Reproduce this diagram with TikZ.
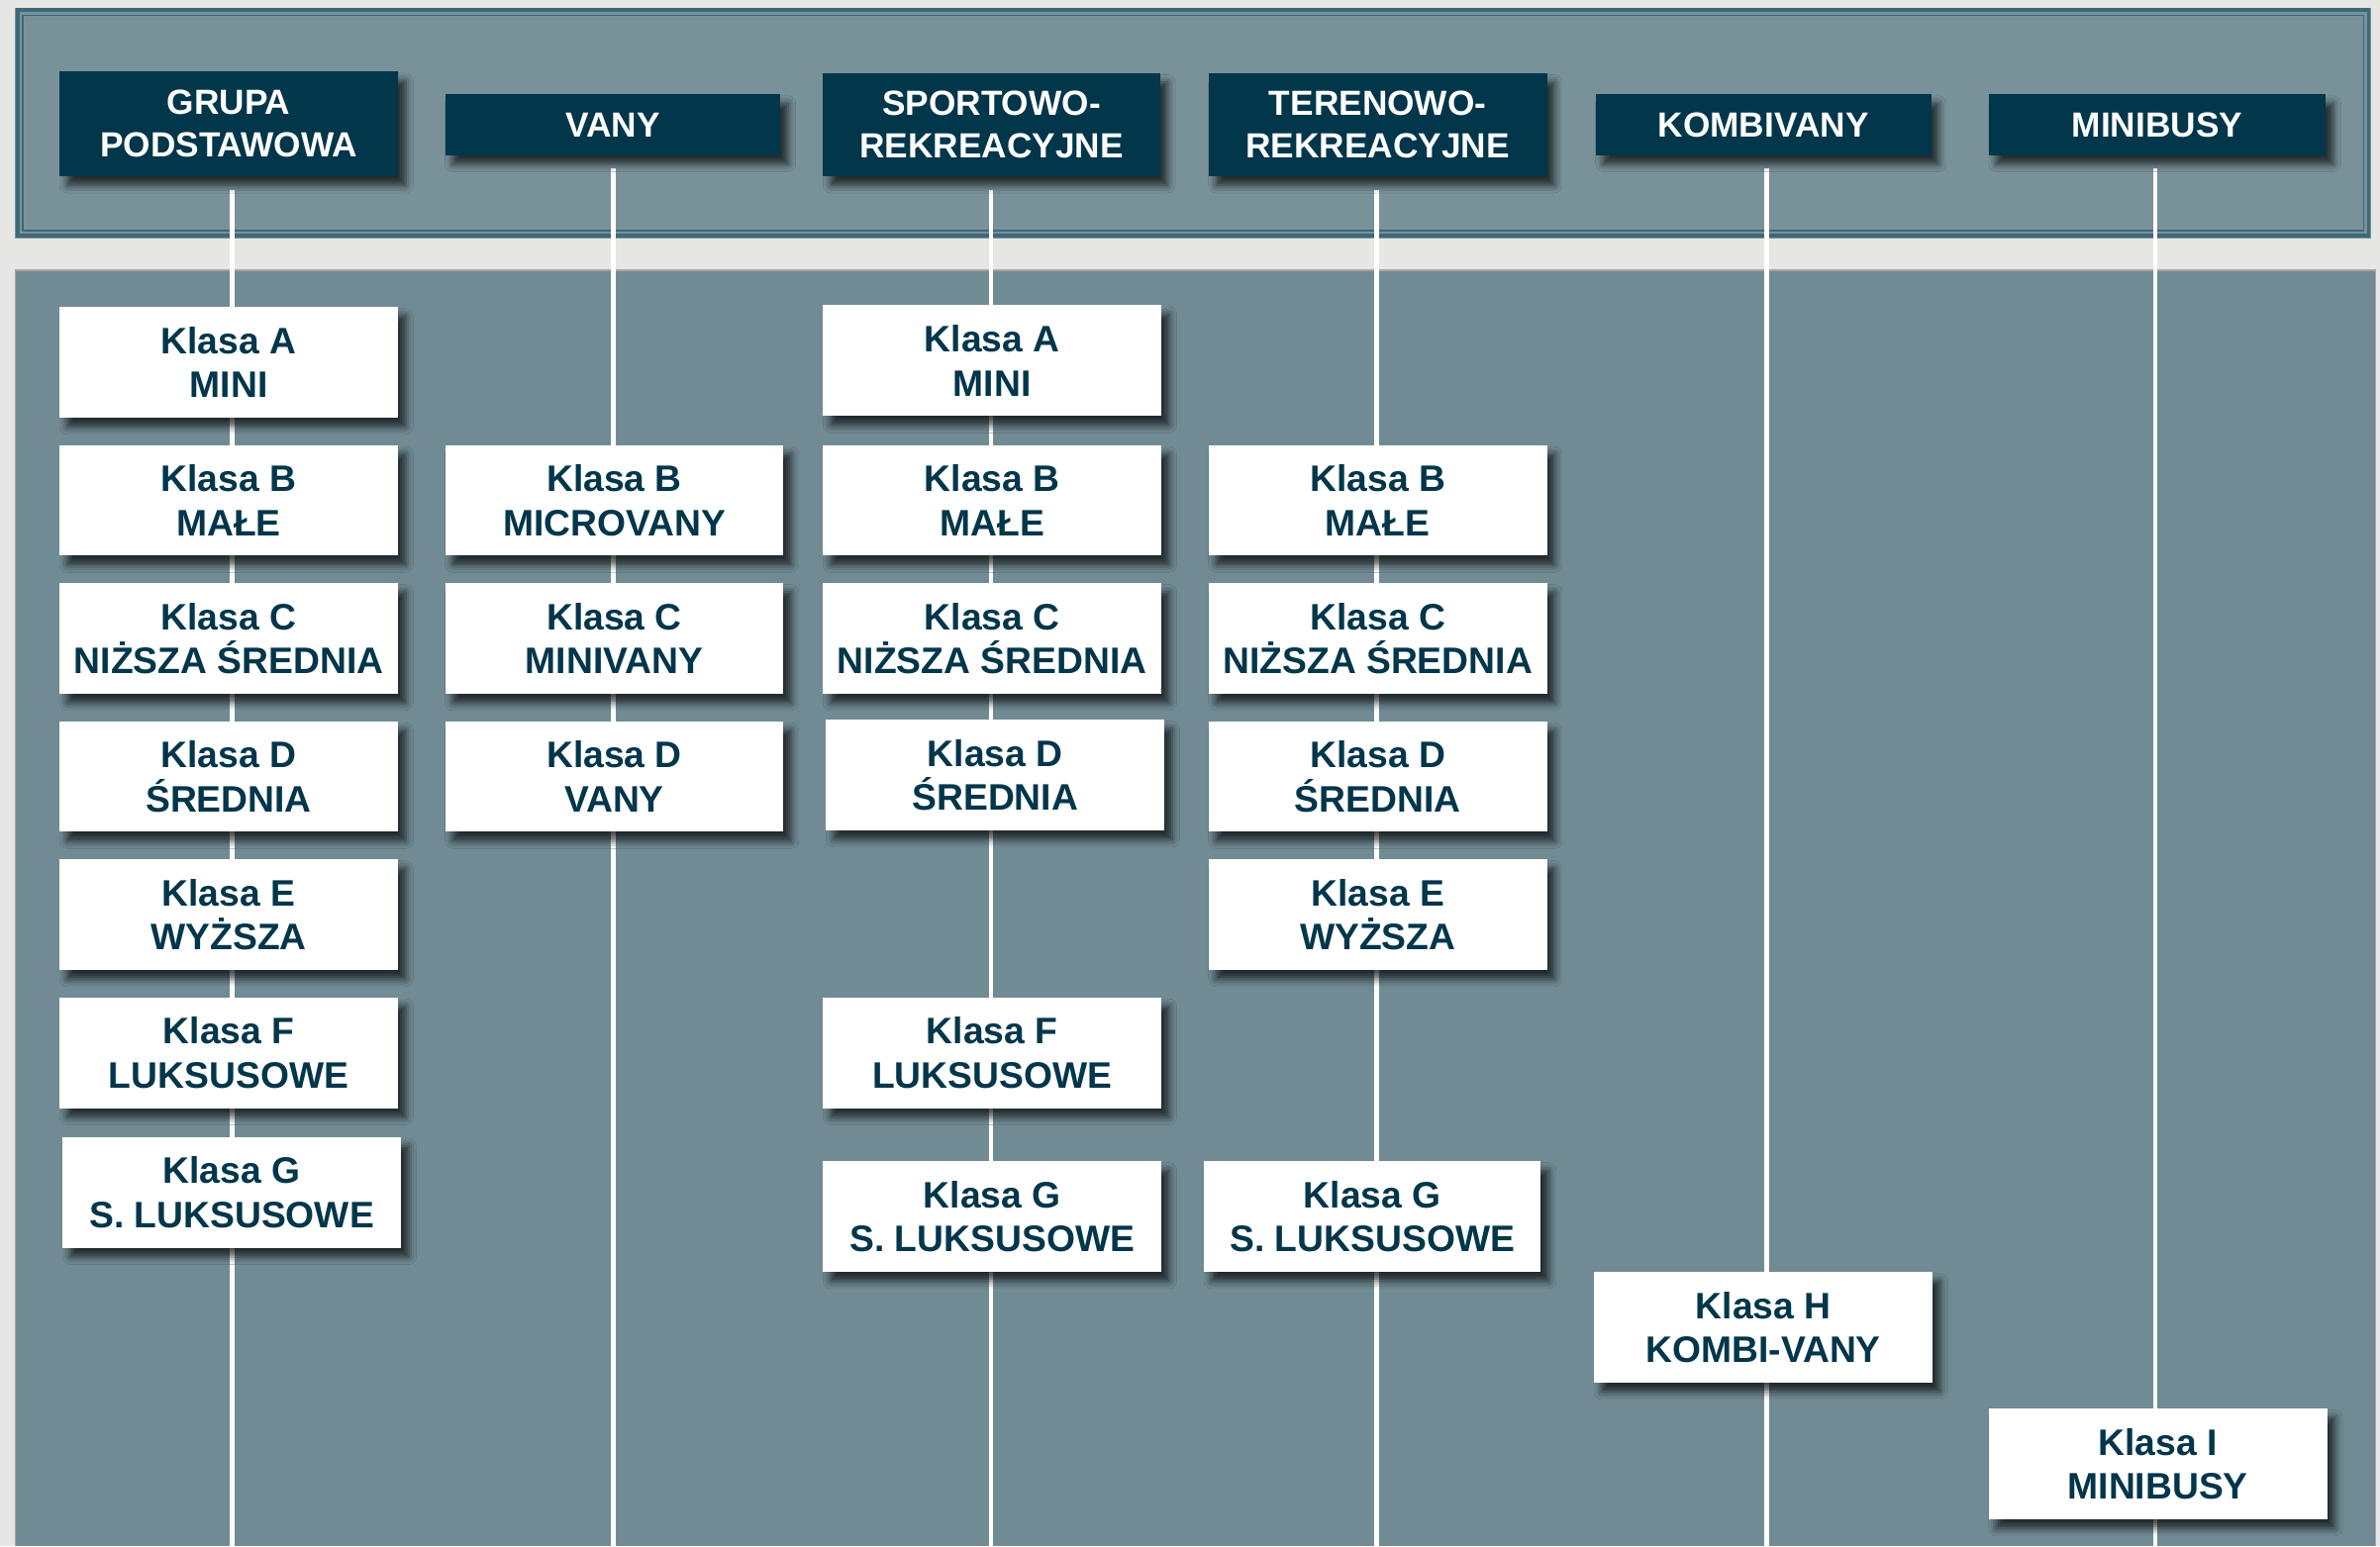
\documentclass[tikz,border=0pt]{standalone}
\usepackage{fontspec}
\setmainfont{Liberation Sans}
\usetikzlibrary{shadows.blur}
\definecolor{navy}{RGB}{1,54,75}
\definecolor{bgl}{RGB}{230,230,228}
\definecolor{toppanel}{RGB}{121,146,154}
\definecolor{botpanel}{RGB}{113,139,148}
\definecolor{pborder}{RGB}{62,104,120}
\tikzset{
  hdr/.style={fill=navy,text=white,font=\bfseries\fontsize{23}{28}\selectfont,
    align=center,inner sep=0pt,minimum width=223pt,anchor=north west,
    blur shadow={shadow xshift=5pt,shadow yshift=-6pt,shadow blur radius=5pt,shadow opacity=70}},
  cls/.style={fill=white,text=navy,font=\bfseries\fontsize{24.3}{29}\selectfont,
    align=center,inner sep=0pt,minimum width=223pt,minimum height=73pt,anchor=north west,
    blur shadow={shadow xshift=5pt,shadow yshift=-6pt,shadow blur radius=5pt,shadow opacity=70}},
  vline/.style={white,line width=3pt},
}
\begin{document}
\begin{tikzpicture}[x=1pt,y=-1pt]
\useasboundingbox (0,0) rectangle (1568,1019);
\fill[bgl] (0,0) rectangle (1568,1019);
% top panel
\fill[toppanel] (10,5) rectangle (1562,157);
\draw[pborder,line width=2.5pt] (11.5,6.5) rectangle (1560.5,155.5);
\draw[pborder,line width=0.8pt] (15,10) rectangle (1557,152);
% bottom panel
\fill[botpanel] (10,178) rectangle (1565,1019);
\draw[gray!70,line width=0.8pt] (10,1019) -- (10,178) -- (1565,178) -- (1565,1019);

% bottom coordinates
\coordinate (e1) at (153,1019);
\coordinate (e2) at (404,1019);
\coordinate (e3) at (653,1019);
\coordinate (e4) at (907,1019);
\coordinate (e5) at (1164,1019);
\coordinate (e6) at (1420,1019);

% header positions (for lines)
\coordinate (s1) at (153,125);
\coordinate (s2) at (404,111);
\coordinate (s3) at (653,125);
\coordinate (s4) at (907,125);
\coordinate (s5) at (1164,111);
\coordinate (s6) at (1420,111);
\foreach \i in {1,...,6} {\draw[vline] (s\i) -- (e\i);}

% headers
\node[hdr,minimum height=69pt] (h1) at (39,47) {GRUPA\\PODSTAWOWA};
\node[hdr,minimum height=40pt,minimum width=221pt] (h2) at (293,62) {VANY};
\node[hdr,minimum height=68pt,minimum width=222pt] (h3) at (542,48) {SPORTOWO-\\REKREACYJNE};
\node[hdr,minimum height=68pt] (h4) at (796,48) {TERENOWO-\\REKREACYJNE};
\node[hdr,minimum height=40pt,minimum width=221pt] (h5) at (1051,62) {KOMBIVANY};
\node[hdr,minimum height=40pt,minimum width=222pt] (h6) at (1310,62) {MINIBUSY};

% column 1
\node[cls] (a1) at (39,202) {Klasa A\\MINI};
\node[cls] (b1) at (39,293) {Klasa B\\MAŁE};
\node[cls] (c1) at (39,384) {Klasa C\\NIŻSZA ŚREDNIA};
\node[cls] (d1) at (39,475) {Klasa D\\ŚREDNIA};
\node[cls] (ee1) at (39,566) {Klasa E\\WYŻSZA};
\node[cls] (f1) at (39,657) {Klasa F\\LUKSUSOWE};
\node[cls] (g1) at (41,749) {Klasa G\\S. LUKSUSOWE};
% column 2
\node[cls] (b2) at (293,293) {Klasa B\\MICROVANY};
\node[cls] (c2) at (293,384) {Klasa C\\MINIVANY};
\node[cls] (d2) at (293,475) {Klasa D\\VANY};
% column 3
\node[cls] (a3) at (542,201) {Klasa A\\MINI};
\node[cls] (b3) at (542,293) {Klasa B\\MAŁE};
\node[cls] (c3) at (542,384) {Klasa C\\NIŻSZA ŚREDNIA};
\node[cls] (d3) at (544,474) {Klasa D\\ŚREDNIA};
\node[cls] (f3) at (542,657) {Klasa F\\LUKSUSOWE};
\node[cls] (g3) at (542,765) {Klasa G\\S. LUKSUSOWE};
% column 4
\node[cls] (b4) at (796,293) {Klasa B\\MAŁE};
\node[cls] (c4) at (796,384) {Klasa C\\NIŻSZA ŚREDNIA};
\node[cls] (d4) at (796,475) {Klasa D\\ŚREDNIA};
\node[cls] (ee4) at (796,566) {Klasa E\\WYŻSZA};
\node[cls,minimum width=222pt] (g4) at (793,765) {Klasa G\\S. LUKSUSOWE};
% column 5
\node[cls] (h5b) at (1050,838) {Klasa H\\KOMBI-VANY};
% column 6
\node[cls] (i6) at (1310,928) {Klasa I\\MINIBUSY};
\end{tikzpicture}
\end{document}
